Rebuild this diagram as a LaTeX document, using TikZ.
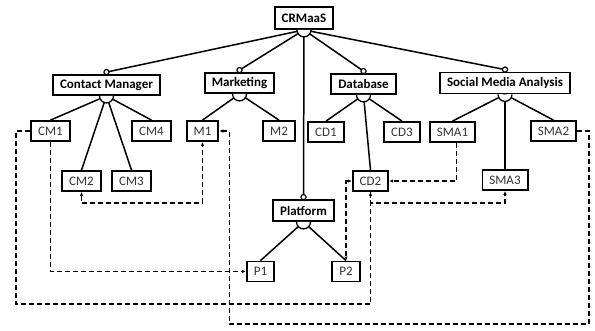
\documentclass[tikz,border=0pt]{standalone}
\usepackage{fontspec}
\setmainfont{Carlito}
\usetikzlibrary{arrows.meta,calc}
\begin{document}
\begin{tikzpicture}[x=1pt,y=-1pt,
 box/.style={draw=black,line width=1.8pt,inner xsep=7pt,inner ysep=0pt,minimum height=20pt,text=black!80,font=\fontsize{13}{15}\selectfont},
 bbox/.style={box,text=black,font=\fontsize{13}{15}\selectfont\bfseries},
 tree/.style={line width=1.5pt},
 dep/.style={line width=1.7pt,dash pattern=on 5pt off 3pt},
 tip/.style={-{Latex[length=4pt,width=3.5pt]}},
 tipboth/.style={{Latex[length=4pt,width=3.5pt]}-{Latex[length=4pt,width=3.5pt]}},
 opt/.style={draw,fill=white,line width=1.2pt},
 grp/.style={draw,fill=white,line width=1.3pt}
]
\useasboundingbox (0,0) rectangle (595,330);
% nodes
\node[bbox,minimum height=22pt] (root) at (304,18) {CRMaaS};
\node[bbox] (cm) at (106.5,85) {Contact Manager};
\node[bbox] (mk) at (239.5,83) {Marketing};
\node[bbox] (db) at (363.5,84) {Database};
\node[bbox,minimum height=21pt] (sma) at (505,83) {Social Media Analysis};
\node[bbox,minimum height=21pt] (pf) at (303.5,210.5) {Platform};
\node[box] (cm1) at (50.5,131) {CM1};
\node[box] (cm4) at (151.5,131) {CM4};
\node[box] (m1) at (202.5,131) {M1};
\node[box] (m2) at (279,131) {M2};
\node[box] (cd1) at (326,132) {CD1};
\node[box] (cd3) at (402,132) {CD3};
\node[box] (sma1) at (452.5,132) {SMA1};
\node[box] (sma2) at (553.5,131) {SMA2};
\node[box] (cm2) at (81.5,181) {CM2};
\node[box] (cm3) at (131.5,181) {CM3};
\node[box] (cd2) at (370.5,181) {CD2};
\node[box] (sma3) at (505,180) {SMA3};
\node[box] (p1) at (260.5,271.5) {P1};
\node[box] (p2) at (346,271.5) {P2};
% tree lines from root
\foreach \c in {cm,mk,db,sma,pf}{
  \draw[tree] (root.south) -- ($(\c.north)+(0,-2)$);
}
% children
\foreach \p/\c in {cm/cm1,cm/cm2,cm/cm3,cm/cm4,mk/m1,mk/m2,db/cd1,db/cd2,db/cd3,sma/sma1,sma/sma3,sma/sma2,pf/p1,pf/p2}{
  \draw[tree] (\p.south) -- (\c.north);
}
% group arcs
\foreach \p in {root,cm,mk,db,sma,pf}{
  \path[grp] ($(\p.south)+(-7pt,0)$) arc[start angle=180,end angle=360,radius=7pt];
}
% optional circles
\foreach \c in {cm,mk,db,sma,pf}{
  \path[opt] ($(\c.north)+(0,-2)$) circle (2.6pt);
}
% dependencies
\draw[dep,tip] (cm1.west) -- (16,131) -- (16,304) -| (cd2.south);
\draw[dep,tip] (cm1.south) |- (p1.west);
\draw[dep,tipboth] (cm2.south) -- ++(0,11) -| (m1.south);
\draw[dep,tip] (sma2.east) -- (589,131) -- (589,324) -- (229.5,324) |- (m1.east);
\draw[dep,tip] ([xshift=4pt]sma1.south) |- (cd2.east);
\draw[dep,tipboth] (cd2.west) -| (p2.north);
\draw[dep,tip] (cd2.south) -- ++(0,11) -| (sma3.south);
\end{tikzpicture}
\end{document}
